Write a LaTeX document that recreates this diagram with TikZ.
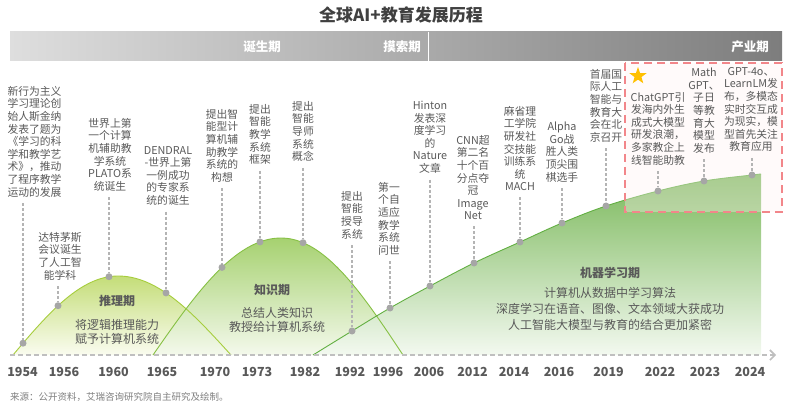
\documentclass[tikz,border=0pt]{standalone}
\usepackage{fontspec}
\setmainfont{Noto Sans CJK SC}
\usetikzlibrary{arrows.meta,shapes.geometric,calc}
\definecolor{txt}{HTML}{595959}
\definecolor{titc}{HTML}{404040}
\definecolor{srcc}{HTML}{7F7F7F}
\definecolor{dotc}{HTML}{A6A6A6}
\definecolor{connc}{HTML}{B4B4B4}
\definecolor{axisc}{HTML}{BFBFBF}
\definecolor{hdrl}{HTML}{DEDEDE}
\definecolor{hdrr}{HTML}{7D7D7D}
\definecolor{hAtop}{HTML}{C4DD78}
\definecolor{hAbot}{HTML}{FAFCF0}
\definecolor{hAedge}{HTML}{A6CD3C}
\definecolor{hBtop}{HTML}{A6D170}
\definecolor{hBbot}{HTML}{F4F9EC}
\definecolor{hBedge}{HTML}{86C043}
\definecolor{hCtop}{HTML}{7AB85A}
\definecolor{hCbot}{HTML}{F3F9F0}
\definecolor{hCedge}{HTML}{62AF42}
\definecolor{boxc}{HTML}{F2868A}
\definecolor{boxf}{HTML}{FFF2F2}
\definecolor{stary}{HTML}{FFC000}
\begin{document}
\begin{tikzpicture}[x=1pt,y=-1pt,
  lbl/.style={font=\fontsize{10.8}{12.6}\selectfont, text=txt, align=center, inner sep=0pt, anchor=north},
  dot/.style={circle, fill=dotc, inner sep=0pt, minimum size=7pt},
  conn/.style={draw=connc, line width=1.1pt, dash pattern=on 3pt off 2pt},
  yr/.style={font=\bfseries\fontsize{12.5}{14}\selectfont, text=txt, inner sep=0pt},
  hdr/.style={font=\bfseries\fontsize{12.5}{14}\selectfont, text=white, inner sep=0pt},
  ph/.style={font=\bfseries\fontsize{12}{14}\selectfont, text=txt, inner sep=0pt},
  desc/.style={font=\fontsize{12}{14}\selectfont, text=txt, align=center, inner sep=0pt},
  descb/.style={font=\fontsize{12}{16}\selectfont, text=txt, align=center, inner sep=0pt}
]
\useasboundingbox (0,0) rectangle (792,406);

% title
\node[font=\bfseries\fontsize{17}{20}\selectfont, text=titc] (title) at (401,15) {全球AI+教育发展历程};

% header bar
\shade[left color=hdrl, right color=hdrr] (10,32) rectangle (782,61);
\draw[white, line width=1pt] (428,32) -- (428,61);
\node[hdr] (h1) at (262,47) {诞生期};
\node[hdr] (h2) at (402,47) {摸索期};
\node[hdr] (h3) at (750,47) {产业期};

% hills: fills
\shade[top color=hAtop, bottom color=hAbot]
  (13,355) -- plot[domain=13:118, samples=40] (\x,{355-79*sin(90*(\x-13)/105)})
  -- plot[domain=118:231, samples=40] (\x,{355-79*sin(90*(231-\x)/113)}) -- cycle;
\shade[top color=hBtop, bottom color=hBbot]
  (153,355) -- plot[domain=153:281, samples=40] (\x,{355-117*sin(90*(\x-153)/128)})
  -- plot[domain=281:403, samples=40] (\x,{355-117*sin(90*(403-\x)/122)}) -- cycle;
\shade[top color=hCtop, bottom color=hCbot]
  plot[smooth, tension=0.6] coordinates {(313,355) (352,331) (390,308) (430,286) (474,263) (520,242) (562,223) (606,206) (658,191) (704,181) (752,175) (761,174)}
  -- (761,355) -- cycle;

% hills: edges
\draw[hAedge, line width=0.9pt]
  plot[domain=13:118, samples=40] (\x,{355-79*sin(90*(\x-13)/105)})
  -- plot[domain=118:231, samples=40] (\x,{355-79*sin(90*(231-\x)/113)});
\draw[hBedge, line width=0.9pt]
  plot[domain=153:281, samples=40] (\x,{355-117*sin(90*(\x-153)/128)})
  -- plot[domain=281:403, samples=40] (\x,{355-117*sin(90*(403-\x)/122)});
\draw[hCedge, line width=0.9pt]
  plot[smooth, tension=0.6] coordinates {(313,355) (352,331) (390,308) (430,286) (474,263) (520,242) (562,223) (606,206) (658,191) (704,181) (752,175) (761,174)};

% highlight box
\fill[boxf, fill opacity=0.35] (625,63) rectangle (782,212);
\draw[boxc, line width=1.8pt, dash pattern=on 8pt off 5pt] (625,63) rectangle (782,212);
\node[star, star points=5, star point ratio=2.5, fill=stary, inner sep=0pt, minimum size=18pt] (star) at (638,76) {};

% axis
\draw[axisc, line width=1.6pt, dash pattern=on 5pt off 3pt, -{Straight Barb[length=5pt,width=10pt]}] (10,355) -- (776,355);

% years
\node[yr] (y1) at (22.5,372) {1954};
\node[yr] (y2) at (64,372) {1956};
\node[yr] (y3) at (113.5,372) {1960};
\node[yr] (y4) at (162,372) {1965};
\node[yr] (y5) at (215,372) {1970};
\node[yr] (y6) at (257,372) {1973};
\node[yr] (y7) at (305,372) {1982};
\node[yr] (y8) at (350,372) {1992};
\node[yr] (y9) at (388,372) {1996};
\node[yr] (y10) at (429,372) {2006};
\node[yr] (y11) at (472.5,372) {2012};
\node[yr] (y12) at (514,372) {2014};
\node[yr] (y13) at (559,372) {2016};
\node[yr] (y14) at (608.5,372) {2019};
\node[yr] (y15) at (660,372) {2022};
\node[yr] (y16) at (705,372) {2023};
\node[yr] (y17) at (750,372) {2024};

% phase texts
\node[ph] (p1) at (117,301) {推理期};
\node[desc] (p1d) at (117,332) {将逻辑推理能力\\赋予计算机系统};
\node[ph] (p2) at (272,290) {知识期};
\node[desc] (p2d) at (277,320) {总结人类知识\\教授给计算机系统};
\node[ph] (p3) at (610,273) {机器学习期};
\node[descb] (p3d) at (610,309) {计算机从数据中学习算法\\深度学习在语音、图像、文本领域大获成功\\人工智能大模型与教育的结合更加紧密};

% dots
\node[dot] (d1) at (23,343.2) {};
\node[dot] (d2) at (58,305.7) {};
\node[dot] (d3) at (109,276.7) {};
\node[dot] (d4) at (166,292.9) {};
\node[dot] (d5) at (222,267.4) {};
\node[dot] (d6) at (260,241.9) {};
\node[dot] (d7) at (303,242.7) {};
\node[dot] (d8) at (352,331) {};
\node[dot] (d9) at (390,308) {};
\node[dot] (d10) at (430,286) {};
\node[dot] (d11) at (474,263) {};
\node[dot] (d12) at (520,242) {};
\node[dot] (d13) at (562,223) {};
\node[dot] (d14) at (606,206) {};
\node[dot] (d15) at (658,191) {};
\node[dot] (d16) at (704,181) {};
\node[dot] (d17) at (752,175) {};

% labels
\node[lbl] (t1) at (34.5,86) {新行为主义\\学习理论创\\始人斯金纳\\发表了题为\\《学习的科\\学和教学艺\\术》，推动\\了程序教学\\运动的发展};
\node[lbl] (t2) at (60,232) {达特茅斯\\会议诞生\\了人工智\\能学科};
\node[lbl] (t3) at (110,118) {世界上第\\一个计算\\机辅助教\\学系统\\PLATO系\\统诞生};
\node[lbl] (t4) at (168,146) {DENDRAL\\-世界上第\\一例成功\\的专家系\\统的诞生};
\node[lbl] (t5) at (222,109) {提出智\\能型计\\算机辅\\助教学\\系统的\\构想};
\node[lbl] (t6) at (260,104) {提出\\智能\\教学\\系统\\框架};
\node[lbl] (t7) at (303,101) {提出\\智能\\导师\\系统\\概念};
\node[lbl] (t8) at (352,191) {提出\\智能\\授导\\系统};
\node[lbl] (t9) at (389,182) {第一\\个自\\适应\\教学\\系统\\问世};
\node[lbl] (t10) at (430,101) {Hinton\\发表深\\度学习\\的\\Nature\\文章};
\node[lbl] (t11) at (473,135) {CNN超\\第二名\\十个百\\分点夺\\冠\\Image\\Net};
\node[lbl] (t12) at (520,106) {麻省理\\工学院\\研发社\\交技能\\训练系\\统\\MACH};
\node[lbl] (t13) at (562,122) {Alpha\\Go战\\胜人类\\顶尖围\\棋选手};
\node[lbl] (t14) at (606,69) {首届国\\际人工\\智能与\\教育大\\会在北\\京召开};
\node[lbl] (t15) at (658,92) {ChatGPT引\\发海内外生\\成式大模型\\研发浪潮，\\多家教企上\\线智能助教};
\node[lbl] (t16) at (704,68) {Math\\GPT、\\子日\\等教\\育大\\模型\\发布};
\node[lbl] (t17) at (751,67) {GPT-4o、\\LearnLM发\\布，多模态\\实时交互成\\为现实，模\\型首先关注\\教育应用};

% connectors
\foreach \i in {1,...,17} {
  \draw[conn] ($(t\i.south -| d\i)+(0,6)$) -- (d\i);
}

% source
\node[anchor=west, font=\fontsize{9.5}{11}\selectfont, text=srcc, inner sep=0pt] (src) at (10,397) {来源：公开资料，艾瑞咨询研究院自主研究及绘制。};
\end{tikzpicture}
\end{document}
